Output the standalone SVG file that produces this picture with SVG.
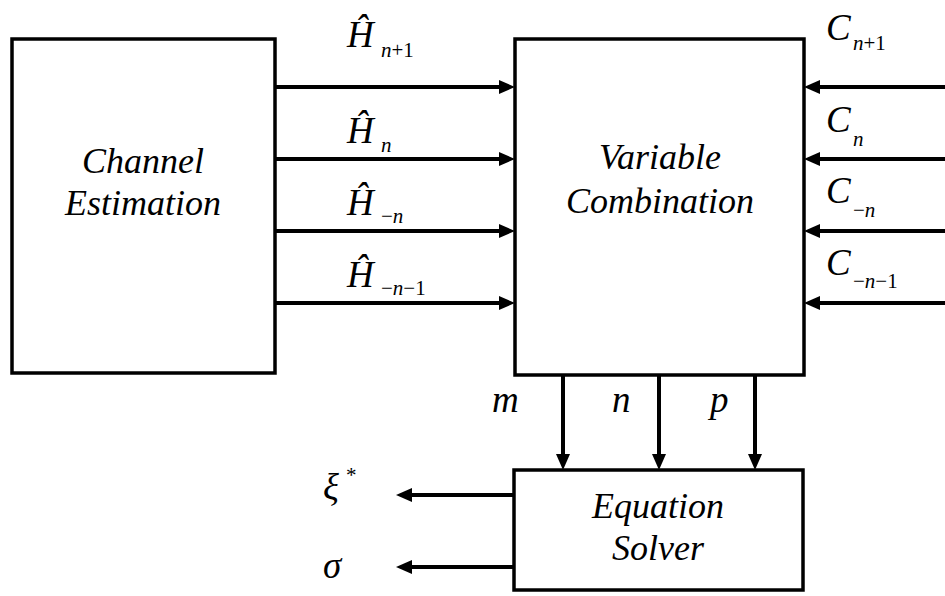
<svg xmlns="http://www.w3.org/2000/svg" width="945" height="596" viewBox="0 0 945 596">
<rect width="945" height="596" fill="#fff"/>
<g id="connectors" stroke="#000" stroke-width="4" fill="none">
<line x1="275" y1="87" x2="500" y2="87"/><line x1="275" y1="159" x2="500" y2="159"/>
<line x1="275" y1="231" x2="500" y2="231"/><line x1="275" y1="303" x2="500" y2="303"/>
<line x1="945" y1="87" x2="818" y2="87"/><line x1="945" y1="159" x2="818" y2="159"/>
<line x1="945" y1="231" x2="818" y2="231"/><line x1="945" y1="303" x2="818" y2="303"/>
<line x1="563" y1="375" x2="563" y2="456"/><line x1="659" y1="375" x2="659" y2="456"/>
<line x1="755" y1="375" x2="755" y2="456"/>
<line x1="514" y1="495" x2="410" y2="495"/><line x1="514" y1="567" x2="410" y2="567"/>
<g stroke="none" fill="#000">
<polygon points="515,87 499,80 499,94"/><polygon points="515,159 499,152 499,166"/>
<polygon points="515,231 499,224 499,238"/><polygon points="515,303 499,296 499,310"/>
<polygon points="804,87 820,80 820,94"/><polygon points="804,159 820,152 820,166"/>
<polygon points="804,231 820,224 820,238"/><polygon points="804,303 820,296 820,310"/>
<polygon points="563,470 556,454 570,454"/><polygon points="659,470 652,454 666,454"/>
<polygon points="755,470 748,454 762,454"/>
<polygon points="396,495 412,488 412,502"/><polygon points="396,567 412,560 412,574"/>
</g>
</g>
<g id="channel-estimation">
<rect x="12" y="39" width="263" height="334" fill="#fff" stroke="#000" stroke-width="3.5"/>
<text x="143" y="173" style="font-family:Liberation Serif;font-style:italic;font-size:36px" text-anchor="middle">Channel</text>
<text x="143" y="215" style="font-family:Liberation Serif;font-style:italic;font-size:36px" text-anchor="middle">Estimation</text>
</g>
<g id="variable-combination">
<rect x="515" y="39" width="289" height="336" fill="#fff" stroke="#000" stroke-width="3.5"/>
<text x="660" y="169" style="font-family:Liberation Serif;font-style:italic;font-size:36px" text-anchor="middle">Variable</text>
<text x="660" y="213" style="font-family:Liberation Serif;font-style:italic;font-size:36px" text-anchor="middle">Combination</text>
</g>
<g id="equation-solver">
<rect x="514" y="470" width="289" height="120" fill="#fff" stroke="#000" stroke-width="3.5"/>
<text x="658" y="518" style="font-family:Liberation Serif;font-style:italic;font-size:36px" text-anchor="middle">Equation</text>
<text x="658" y="560" style="font-family:Liberation Serif;font-style:italic;font-size:36px" text-anchor="middle">Solver</text>
</g>
<g id="labels">
<text x="347" y="47" style="font-family:Liberation Serif;font-style:italic;font-size:37px">&#x124;</text><text x="381" y="57" style="font-family:Liberation Serif;font-size:21px"><tspan style="font-style:italic">n</tspan>+1</text>
<text x="347" y="143" style="font-family:Liberation Serif;font-style:italic;font-size:37px">&#x124;</text><text x="381" y="152" style="font-family:Liberation Serif;font-style:italic;font-size:21px">n</text>
<text x="347" y="215" style="font-family:Liberation Serif;font-style:italic;font-size:37px">&#x124;</text><text x="381" y="223" style="font-family:Liberation Serif;font-size:21px">&#x2212;<tspan style="font-style:italic">n</tspan></text>
<text x="347" y="287" style="font-family:Liberation Serif;font-style:italic;font-size:37px">&#x124;</text><text x="381" y="295" style="font-family:Liberation Serif;font-size:21px">&#x2212;<tspan style="font-style:italic">n</tspan>&#x2212;1</text>
<text x="826" y="40" style="font-family:Liberation Serif;font-style:italic;font-size:37px">C</text><text x="853" y="50" style="font-family:Liberation Serif;font-size:21px"><tspan style="font-style:italic">n</tspan>+1</text>
<text x="826" y="132" style="font-family:Liberation Serif;font-style:italic;font-size:37px">C</text><text x="853" y="146" style="font-family:Liberation Serif;font-style:italic;font-size:21px">n</text>
<text x="826" y="203" style="font-family:Liberation Serif;font-style:italic;font-size:37px">C</text><text x="853" y="217" style="font-family:Liberation Serif;font-size:21px">&#x2212;<tspan style="font-style:italic">n</tspan></text>
<text x="826" y="275" style="font-family:Liberation Serif;font-style:italic;font-size:37px">C</text><text x="853" y="288" style="font-family:Liberation Serif;font-size:21px">&#x2212;<tspan style="font-style:italic">n</tspan>&#x2212;1</text>
<text x="492" y="412" style="font-family:Liberation Serif;font-style:italic;font-size:37px">m</text>
<text x="612" y="412" style="font-family:Liberation Serif;font-style:italic;font-size:37px">n</text>
<text x="710" y="412" style="font-family:Liberation Serif;font-style:italic;font-size:37px">p</text>
<text x="323" y="500" style="font-family:Liberation Serif;font-style:italic;font-size:37px">&#x3BE;</text><text x="346" y="482" style="font-family:Liberation Serif;font-size:21px">*</text>
<text x="323" y="578" style="font-family:Liberation Serif;font-style:italic;font-size:37px">&#x3C3;</text>
</g>
</svg>
